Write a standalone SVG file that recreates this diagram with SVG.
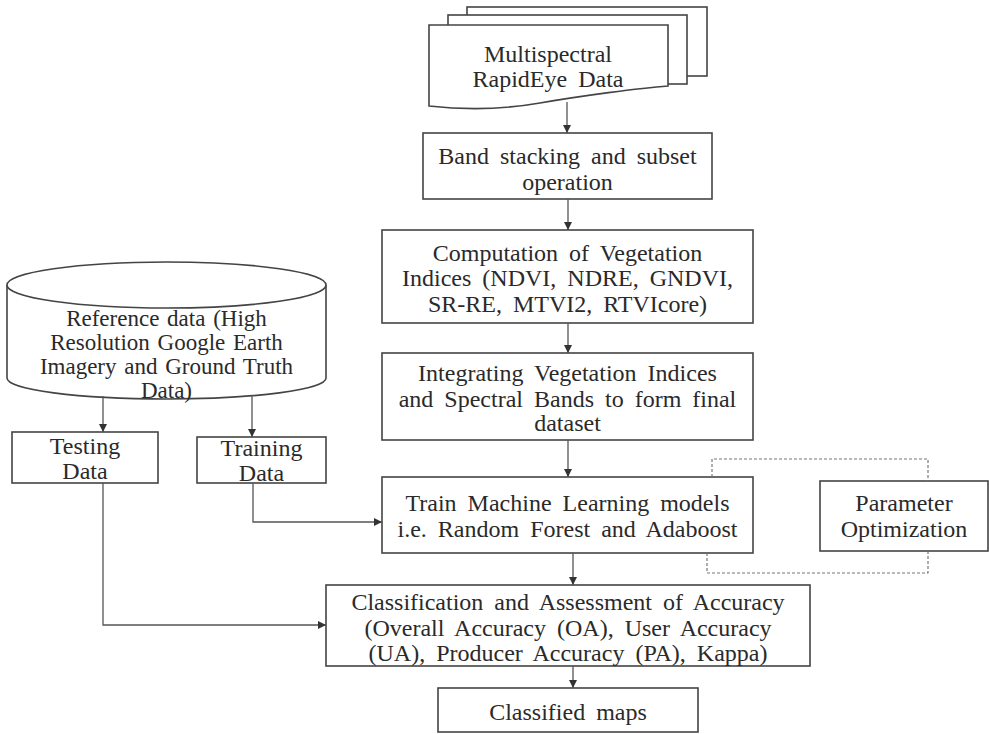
<svg xmlns="http://www.w3.org/2000/svg" width="989" height="734" viewBox="0 0 989 734">
<defs>
<marker id="ah" viewBox="0 0 10 10" refX="10" refY="5" markerWidth="8" markerHeight="8" markerUnits="userSpaceOnUse" orient="auto">
<path d="M0,0 L10,5 L0,10 Z" fill="#333"/>
</marker>
<style>
.box{fill:#fff;stroke:#444;stroke-width:1.6}
.t{font-size:24px;fill:#2a2a2a;text-anchor:middle;word-spacing:5px}
.s{font-size:23px;word-spacing:2px}
.c{fill:none;stroke:#555;stroke-width:1.3}
.d{fill:none;stroke:#777;stroke-width:1.2;stroke-dasharray:3 2}
</style>
</defs>
<rect width="989" height="734" fill="#fff"/>
<g font-family="'Liberation Serif', 'Times New Roman', Times, 'DejaVu Serif', serif">
<g id="multispectral">
<rect class="box" x="467" y="7" width="240" height="69"/>
<rect class="box" x="448" y="15" width="239" height="69"/>
<path class="box" d="M429,25 H668 V86 C640,88 580,96 540,103 C500,110 465,110 429,106 Z"/>
<text class="t" x="548" y="62">Multispectral</text>
<text class="t" x="548" y="87">RapidEye Data</text>
</g>
<g id="band">
<rect class="box" x="423" y="133" width="289" height="66"/>
<text class="t" x="567.5" y="164">Band stacking and subset</text>
<text class="t" x="567.5" y="190">operation</text>
</g>
<g id="computation">
<rect class="box" x="382" y="230" width="371" height="93"/>
<text class="t" x="567.5" y="261">Computation of Vegetation</text>
<text class="t" x="567.5" y="286">Indices (NDVI, NDRE, GNDVI,</text>
<text class="t" x="567.5" y="312">SR-RE, MTVI2, RTVIcore)</text>
</g>
<g id="integrating">
<rect class="box" x="382" y="353" width="371" height="87"/>
<text class="t" x="567.5" y="381">Integrating Vegetation Indices</text>
<text class="t" x="567.5" y="407">and Spectral Bands to form final</text>
<text class="t" x="567.5" y="431">dataset</text>
</g>
<g id="train">
<rect class="box" x="382" y="477" width="371" height="76"/>
<text class="t" x="567.5" y="511">Train Machine Learning models</text>
<text class="t" x="567.5" y="537">i.e. Random Forest and Adaboost</text>
</g>
<g id="parameter">
<rect class="box" x="820" y="481" width="168" height="70"/>
<text class="t" x="904" y="511">Parameter</text>
<text class="t" x="904" y="537">Optimization</text>
</g>
<g id="classification">
<rect class="box" x="326" y="585" width="484" height="81"/>
<text class="t" x="568" y="610">Classification and Assessment of Accuracy</text>
<text class="t" x="568" y="636">(Overall Accuracy (OA), User Accuracy</text>
<text class="t" x="568" y="661">(UA), Producer Accuracy (PA), Kappa)</text>
</g>
<g id="maps">
<rect class="box" x="438" y="688" width="260" height="44"/>
<text class="t" x="568" y="720">Classified maps</text>
</g>
<g id="reference">
<path class="box" d="M7,285 V378 A159.5,21 0 0 0 326,378 V285"/>
<ellipse class="box" cx="166.5" cy="285" rx="159.5" ry="23"/>
<text class="t s" x="166.5" y="326">Reference data (High</text>
<text class="t s" x="166.5" y="350">Resolution Google Earth</text>
<text class="t s" x="166.5" y="374">Imagery and Ground Truth</text>
<text class="t s" x="166.5" y="398">Data)</text>
</g>
<g id="testing">
<rect class="box" x="12" y="432" width="146" height="51"/>
<text class="t" x="85" y="454">Testing</text>
<text class="t" x="85" y="479">Data</text>
</g>
<g id="training">
<rect class="box" x="197" y="437" width="129" height="46"/>
<text class="t" x="261.5" y="456">Training</text>
<text class="t" x="261.5" y="481">Data</text>
</g>
</g>
<g id="connectors">
<path class="c" d="M567,102 V133" marker-end="url(#ah)"/>
<path class="c" d="M568,199 V230" marker-end="url(#ah)"/>
<path class="c" d="M568,323 V353" marker-end="url(#ah)"/>
<path class="c" d="M568,440 V477" marker-end="url(#ah)"/>
<path class="c" d="M573,553 V585" marker-end="url(#ah)"/>
<path class="c" d="M573,666 V688" marker-end="url(#ah)"/>
<path class="c" d="M103,396 V432" marker-end="url(#ah)"/>
<path class="c" d="M252,395 V437" marker-end="url(#ah)"/>
<path class="c" d="M103,483 V625 H326" marker-end="url(#ah)"/>
<path class="c" d="M253,483 V522 H382" marker-end="url(#ah)"/>
<path class="d" d="M712,477 V459 H928 V481"/>
<path class="d" d="M707,553 V573 H928 V551"/>
</g>
</svg>
